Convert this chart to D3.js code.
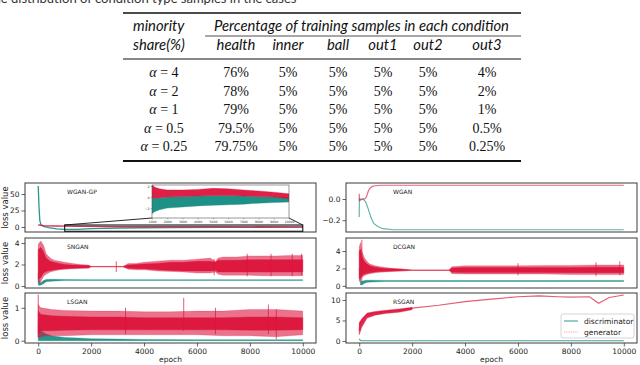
<!DOCTYPE html>
<html><head><meta charset="utf-8">
<script src="https://cdn.jsdelivr.net/npm/d3@7"></script>
<style>body{margin:0;background:#fff}svg{display:block}</style>
</head><body>
<svg id="c" width="640" height="365"></svg>
<script>
// ---------------- TABLE DATA ----------------
const captionText = "The distribution of condition type samples in the cases";
const conditionCols = ["health", "inner", "ball", "out1", "out2", "out3"];
const alphaValues = ["4", "2", "1", "0.5", "0.25"];
const healthPct = [76, 78, 79, 79.5, 79.75];
const innerPct = [5, 5, 5, 5, 5];
const ballPct = [5, 5, 5, 5, 5];
const out1Pct = [5, 5, 5, 5, 5];
const out2Pct = [5, 5, 5, 5, 5];
const out3Pct = [4, 2, 1, 0.5, 0.25];

// ---------------- CHART DATA ----------------
const epochTicks = [0, 2000, 4000, 6000, 8000, 10000];
const seriesNames = ["discriminator", "generator"];

// WGAN-GP (main)
const wgangpEpoch = [0, 30, 60, 100, 200, 400, 700, 1000, 1500, 2000, 3000, 5000, 7000, 10000];
const wgangpDisc = [62, 30, 10, 4, 1, -1, -3, -3.5, -3.5, -2.5, -1.5, -0.8, -0.5, -0.3];
const wgangpGen = [3, 3, 2.8, 2.5, 2, 1.8, 1.5, 1.2, 1, 0.8, 0.6, 0.5, 0.4, 0.2];
const wgangpTicks = [0, 25, 50];
const zoomEpochRange = [1000, 10000];
const zoomLossRange = [-6.5, 3];
// WGAN-GP inset (zoom on epochs 1000-10000)
const insetEpoch = [1000, 1200, 1500, 2000, 3000, 4000, 5000, 6000, 7000, 8000, 9000, 10000];
const insetGenLo = [-0.2, -0.2, -0.1, 0.0, 0.1, 0.2, 0.3, 0.3, 0.2, 0.1, 0.0, -0.3];
const insetGenHi = [2.2, 1.8, 1.5, 1.3, 1.3, 1.4, 1.6, 1.5, 1.3, 1.1, 0.9, 0.6];
const insetDiscLo = [-3.0, -2.6, -2.3, -2.0, -1.8, -1.6, -1.5, -1.4, -1.3, -1.1, -1.0, -0.9];
const insetDiscHi = [-0.2, -0.2, -0.1, 0.0, 0.1, 0.2, 0.3, 0.3, 0.2, 0.1, 0.0, 0.0];
const insetYTicks = [-2, 0, 2];
const insetXTicks = [1000, 2000, 3000, 4000, 5000, 6000, 7000, 8000, 9000, 10000];

// SNGAN
const snganGenEpoch = [0, 100, 200, 300, 450, 600, 800, 1000, 1300, 1600, 1900, 2000, 2500, 3200, 3400, 3700, 4000, 4500, 5000, 5500, 6000, 6500, 6700, 6800, 7000, 7500, 8000, 8500, 9000, 9500, 10000];
const snganGenLo = [0.3, 0.4, 0.9, 1.1, 1.3, 1.4, 1.5, 1.55, 1.6, 1.62, 1.65, 1.78, 1.78, 1.78, 1.55, 1.5, 1.5, 1.4, 1.35, 1.3, 1.2, 1.2, 1.3, 1.1, 1.0, 1.0, 1.0, 0.95, 0.95, 0.95, 0.95];
const snganGenHi = [3.9, 4.2, 3.8, 3.0, 2.6, 2.4, 2.3, 2.2, 2.1, 2.0, 1.95, 1.82, 1.82, 1.82, 2.1, 2.1, 2.2, 2.3, 2.4, 2.4, 2.5, 2.6, 2.3, 2.6, 2.7, 2.7, 2.8, 2.8, 2.8, 2.85, 2.85];
const snganGenCoreLo = [0.6, 0.8, 1.2, 1.35, 1.45, 1.5, 1.55, 1.6, 1.65, 1.68, 1.7, 1.78, 1.78, 1.78, 1.65, 1.6, 1.6, 1.5, 1.45, 1.4, 1.4, 1.4, 1.45, 1.3, 1.3, 1.3, 1.3, 1.3, 1.3, 1.3, 1.3];
const snganGenCoreHi = [3.4, 3.6, 3.2, 2.6, 2.3, 2.2, 2.1, 2.0, 1.95, 1.92, 1.9, 1.82, 1.82, 1.82, 1.95, 2.0, 2.05, 2.1, 2.2, 2.2, 2.3, 2.3, 2.2, 2.4, 2.4, 2.4, 2.45, 2.45, 2.45, 2.45, 2.45];
const snganSpikeEpoch = [2950, 6650, 7900, 8800, 9600, 9950];
const snganSpikeLo = [1.3, 1.0, 0.9, 0.9, 0.9, 1.0];
const snganSpikeHi = [2.3, 2.5, 3.0, 3.0, 3.0, 3.0];
const snganDiscEpoch = [0, 50, 100, 200, 300, 500, 1000, 2000, 4000, 6000, 8000, 10000];
const snganDiscLo = [0.1, 0.05, 0.1, 0.2, 0.4, 0.45, 0.5, 0.52, 0.52, 0.52, 0.52, 0.52];
const snganDiscHi = [1.2, 0.4, 0.3, 0.5, 0.6, 0.62, 0.6, 0.58, 0.58, 0.58, 0.58, 0.58];
const snganTicks = [0, 2, 4];

// LSGAN
const lsganGenEpoch = [0, 50, 100, 300, 500, 1000, 2000, 3000, 4000, 5000, 6000, 7000, 8000, 9000, 10000];
const lsganGenLo = [0.1, 0.1, 0.12, 0.15, 0.15, 0.15, 0.18, 0.18, 0.18, 0.18, 0.18, 0.15, 0.15, 0.12, 0.18];
const lsganGenHi = [1.1, 1.05, 1.0, 0.98, 0.95, 0.92, 0.9, 0.9, 0.88, 0.88, 0.9, 0.9, 0.95, 0.95, 0.9];
const lsganGenCoreLo = [0.2, 0.25, 0.3, 0.3, 0.3, 0.32, 0.33, 0.33, 0.33, 0.33, 0.33, 0.33, 0.32, 0.32, 0.33];
const lsganGenCoreHi = [0.9, 0.85, 0.8, 0.78, 0.76, 0.74, 0.72, 0.72, 0.7, 0.7, 0.7, 0.7, 0.72, 0.72, 0.7];
const lsganSpikeEpoch = [0, 3300, 5500, 6700, 8700, 9000];
const lsganSpikeLo = [0.1, 0.2, 0.3, 0.2, 0.2, 0.05];
const lsganSpikeHi = [1.4, 1.0, 1.3, 1.0, 1.1, 0.95];
const lsganDiscEpoch = [0, 100, 300, 500, 1000, 1500, 2000, 3000, 4000, 6000, 8000, 10000];
const lsganDiscLo = [0, 0, 0, 0, 0, 0, 0, 0, 0, 0, 0, 0];
const lsganDiscHi = [0.55, 0.3, 0.2, 0.15, 0.1, 0.08, 0.06, 0.05, 0.04, 0.03, 0.03, 0.03];
const lsganTicks = [0, 1];

// WGAN
const wganGenEpoch = [0, 10, 30, 60, 100, 200, 250, 300, 350, 400, 500, 600, 800, 1000, 2000, 10000];
const wganGen = [0.05, -0.02, 0.0, 0.0, 0.0, 0.0, 0.01, 0.04, 0.08, 0.10, 0.12, 0.125, 0.13, 0.13, 0.13, 0.13];
const wganDiscEpoch = [0, 5, 50, 150, 250, 350, 450, 550, 700, 900, 1300, 2000, 10000];
const wganDisc = [-0.17, 0.0, -0.01, 0.0, -0.03, -0.1, -0.18, -0.23, -0.26, -0.28, -0.29, -0.29, -0.29];
const wganTicks = [-0.2, 0.0];

// DCGAN
const dcganGenEpoch = [0, 50, 100, 200, 300, 400, 600, 800, 1000, 1300, 1600, 2000, 2100, 3000, 3400, 3500, 4000, 5000, 6000, 7000, 8000, 9000, 10000];
const dcganGenLo = [0.5, 0.6, 1.0, 1.2, 1.3, 1.4, 1.5, 1.55, 1.6, 1.65, 1.7, 1.78, 1.78, 1.78, 1.78, 1.4, 1.35, 1.35, 1.35, 1.35, 1.3, 1.3, 1.3];
const dcganGenHi = [4.5, 5.0, 4.0, 3.2, 2.8, 2.5, 2.3, 2.2, 2.1, 2.0, 1.95, 1.82, 1.82, 1.82, 1.82, 2.2, 2.3, 2.3, 2.3, 2.35, 2.35, 2.4, 2.4];
const dcganGenCoreLo = [0.8, 0.9, 1.2, 1.35, 1.45, 1.5, 1.6, 1.65, 1.68, 1.7, 1.72, 1.78, 1.78, 1.78, 1.78, 1.55, 1.52, 1.52, 1.52, 1.52, 1.5, 1.5, 1.5];
const dcganGenCoreHi = [4.0, 4.2, 3.4, 2.8, 2.5, 2.3, 2.15, 2.05, 2.0, 1.95, 1.9, 1.82, 1.82, 1.82, 1.82, 2.05, 2.1, 2.1, 2.1, 2.12, 2.12, 2.15, 2.15];
const dcganSpikeEpoch = [100, 6000, 8950, 9850];
const dcganSpikeLo = [0.4, 1.2, 1.1, 1.2];
const dcganSpikeHi = [5.3, 2.6, 2.7, 2.8];
const dcganDiscEpoch = [0, 50, 100, 200, 300, 500, 1000, 2000, 10000];
const dcganDiscLo = [1.5, 0.1, 0.1, 0.3, 0.4, 0.45, 0.5, 0.5, 0.5];
const dcganDiscHi = [2.0, 0.5, 0.5, 0.6, 0.65, 0.65, 0.62, 0.6, 0.6];
const dcganTicks = [0, 2, 4];

// RSGAN
const rsganGenEpoch = [0, 30, 60, 100, 150, 250, 400, 600, 900, 1300, 1700, 2000, 3000, 4000, 5000, 6000, 6800, 7500, 8000, 8700, 9050, 9450, 10000];
const rsganGen = [2.5, 4.2, 4.5, 5.0, 5.6, 6.2, 6.5, 6.8, 7.1, 7.3, 7.6, 8.0, 8.7, 9.6, 10.2, 10.8, 11.0, 10.8, 10.7, 10.8, 9.2, 10.6, 11.2];
const rsganBandEpoch = [0, 100, 300, 600, 1000, 1500, 2000];
const rsganBandLo = [1.5, 3.4, 5.6, 6.3, 6.7, 7.0, 7.6];
const rsganBandHi = [4.5, 5.4, 6.8, 7.2, 7.5, 7.8, 8.2];
const rsganDiscEpoch = [0, 50, 100, 10000];
const rsganDisc = [0.5, 0.1, 0.05, 0.05];
const rsganTicks = [0, 5, 10];

// ---------------- DRAWING ----------------
const svg = d3.select("#c");
const TEAL = "#128a80", RED = "#dc143c", FRAME = "#3a3a3a";

// caption (cut off at the top edge, as in the source page)
svg.append("text").attr("x", -14).attr("y", 3).attr("font-family", "Lato").attr("font-size", 13)
  .attr("fill", "#333").text(captionText);

// table
const T = svg.append("g");
const tl = 123, tr = 521;
const colX = [236, 288, 338, 383, 428, 487];
const rowY = [77, 95.5, 114, 132.5, 151];
T.append("line").attr("x1", tl).attr("x2", tr).attr("y1", 13).attr("y2", 13).attr("stroke", "#111").attr("stroke-width", 1.6);
T.append("line").attr("x1", 205).attr("x2", tr).attr("y1", 36).attr("y2", 36).attr("stroke", "#222").attr("stroke-width", 0.8);
T.append("line").attr("x1", tl).attr("x2", tr).attr("y1", 59).attr("y2", 59).attr("stroke", "#111").attr("stroke-width", 1);
T.append("line").attr("x1", tl).attr("x2", tr).attr("y1", 161).attr("y2", 161).attr("stroke", "#111").attr("stroke-width", 1.8);
const hdr = {"font-family": "Lato", "font-style": "italic", "font-size": 14.8, "fill": "#111"};
function styled(sel, st) { Object.entries(st).forEach(([k, v]) => sel.attr(k, v)); return sel; }
styled(T.append("text").attr("x", 133).attr("y", 31).text("minority"), hdr);
styled(T.append("text").attr("x", 133).attr("y", 50).text("share(%)"), hdr);
styled(T.append("text").attr("x", 214).attr("y", 31).text("Percentage of training samples in each condition"), hdr);
conditionCols.forEach((c, i) => styled(T.append("text").attr("x", colX[i]).attr("y", 50).attr("text-anchor", "middle").text(c), hdr));
const cols = [healthPct, innerPct, ballPct, out1Pct, out2Pct, out3Pct];
const cell = {"font-family": "Liberation Serif", "font-size": 14, "fill": "#111", "text-anchor": "middle"};
alphaValues.forEach((a, r) => {
  const t = styled(T.append("text").attr("x", 164).attr("y", rowY[r]), cell);
  t.append("tspan").attr("font-style", "italic").text("α");
  t.append("tspan").text(" = " + a);
  cols.forEach((col, ci) => styled(T.append("text").attr("x", colX[ci]).attr("y", rowY[r]).text(col[r] + "%"), cell));
});

// panels
const LEFT = [25, 316], RIGHT = [346, 637];
const ROWS = [[183, 232], [238, 288], [293, 343]];
const zip3 = (e, a, b) => e.map((v, i) => [v, a[i], b[i]]);
const zip2 = (e, a) => e.map((v, i) => [v, a[i]]);

const panels = [
  {name: "WGAN-GP", col: LEFT, row: ROWS[0], dom: [-7.6, 66.7], ticks: wgangpTicks, ylab: true, inset: true,
   series: [{kind: "line", c: TEAL, d: zip2(wgangpEpoch, wgangpDisc), w: 1.3, o: 0.9},
            {kind: "line", c: RED, d: zip2(wgangpEpoch, wgangpGen), w: 1.3, o: 0.9}]},
  {name: "SNGAN", col: LEFT, row: ROWS[1], dom: [-0.19, 4.47], ticks: snganTicks, ylab: true,
   series: [{kind: "band", c: TEAL, d: zip3(snganDiscEpoch, snganDiscLo, snganDiscHi), o: 0.9},
            {kind: "band", c: RED, d: zip3(snganGenEpoch, snganGenLo, snganGenHi), o: 0.6},
            {kind: "band", c: RED, d: zip3(snganGenEpoch, snganGenCoreLo, snganGenCoreHi), o: 0.95},
            {kind: "spike", c: RED, d: zip3(snganSpikeEpoch, snganSpikeLo, snganSpikeHi)}]},
  {name: "LSGAN", col: LEFT, row: ROWS[2], dom: [-0.07, 1.45], ticks: lsganTicks, ylab: true, xlab: true,
   series: [{kind: "band", c: TEAL, d: zip3(lsganDiscEpoch, lsganDiscLo, lsganDiscHi), o: 0.9},
            {kind: "band", c: RED, d: zip3(lsganGenEpoch, lsganGenLo, lsganGenHi), o: 0.6},
            {kind: "band", c: RED, d: zip3(lsganGenEpoch, lsganGenCoreLo, lsganGenCoreHi), o: 0.95},
            {kind: "spike", c: RED, d: zip3(lsganSpikeEpoch, lsganSpikeLo, lsganSpikeHi)}]},
  {name: "WGAN", col: RIGHT, row: ROWS[0], dom: [-0.311, 0.151], ticks: wganTicks, fmt: d3.format(".1f"),
   series: [{kind: "line", c: TEAL, d: zip2(wganDiscEpoch, wganDisc), w: 1.2, o: 0.65},
            {kind: "line", c: RED, d: zip2(wganGenEpoch, wganGen), w: 1.2, o: 0.65}]},
  {name: "DCGAN", col: RIGHT, row: ROWS[1], dom: [-0.25, 5.5], ticks: dcganTicks,
   series: [{kind: "band", c: TEAL, d: zip3(dcganDiscEpoch, dcganDiscLo, dcganDiscHi), o: 0.9},
            {kind: "band", c: RED, d: zip3(dcganGenEpoch, dcganGenLo, dcganGenHi), o: 0.6},
            {kind: "band", c: RED, d: zip3(dcganGenEpoch, dcganGenCoreLo, dcganGenCoreHi), o: 0.95},
            {kind: "spike", c: RED, d: zip3(dcganSpikeEpoch, dcganSpikeLo, dcganSpikeHi)}]},
  {name: "RSGAN", col: RIGHT, row: ROWS[2], dom: [-0.5, 11.7], ticks: rsganTicks, xlab: true, legend: true,
   series: [{kind: "line", c: TEAL, d: zip2(rsganDiscEpoch, rsganDisc), w: 1.2, o: 0.8},
            {kind: "band", c: RED, d: zip3(rsganBandEpoch, rsganBandLo, rsganBandHi), o: 0.9},
            {kind: "line", c: RED, d: zip2(rsganGenEpoch, rsganGen), w: 1.1, o: 0.7}]}
];

function drawSeries(g, s, x, y) {
  if (s.kind === "line") {
    g.append("path").attr("d", d3.line().x(d => x(d[0])).y(d => y(d[1]))(s.d))
      .attr("fill", "none").attr("stroke", s.c).attr("stroke-width", s.w).attr("stroke-opacity", s.o);
  } else if (s.kind === "band") {
    g.append("path").attr("d", d3.area().x(d => x(d[0])).y0(d => y(d[1])).y1(d => y(d[2]))(s.d))
      .attr("fill", s.c).attr("fill-opacity", s.o).attr("stroke", s.c).attr("stroke-width", 0.6).attr("stroke-opacity", s.o * 0.6);
  } else {
    g.selectAll(null).data(s.d).enter().append("line")
      .attr("x1", d => x(d[0])).attr("x2", d => x(d[0])).attr("y1", d => y(d[1])).attr("y2", d => y(d[2]))
      .attr("stroke", s.c).attr("stroke-width", 1).attr("stroke-opacity", 0.7);
  }
}

panels.forEach((p, i) => {
  const x = d3.scaleLinear().domain([-500, 10500]).range(p.col);
  const y = d3.scaleLinear().domain(p.dom).range([p.row[1], p.row[0]]);
  const g = svg.append("g");
  const cid = "clip" + i;
  svg.append("clipPath").attr("id", cid).append("rect")
    .attr("x", p.col[0]).attr("y", p.row[0]).attr("width", p.col[1] - p.col[0]).attr("height", p.row[1] - p.row[0]);
  const pg = g.append("g").attr("clip-path", `url(#${cid})`);
  p.series.forEach(s => drawSeries(pg, s, x, y));

  const ay = g.append("g").attr("transform", `translate(${p.col[0]},0)`)
    .call(d3.axisLeft(y).tickValues(p.ticks).tickSize(3.5).tickPadding(2).tickFormat(p.fmt || d3.format("d")));
  ay.select(".domain").remove();
  ay.selectAll("line").attr("stroke", FRAME).attr("stroke-width", 0.8);
  ay.selectAll("text").attr("font-family", "DejaVu Sans").attr("font-size", 7.5).attr("fill", "#222");
  if (p.xlab) {
    const ax = g.append("g").attr("transform", `translate(0,${p.row[1]})`)
      .call(d3.axisBottom(x).tickValues(epochTicks).tickSize(3.5).tickPadding(2).tickFormat(d3.format("d")));
    ax.select(".domain").remove();
    ax.selectAll("line").attr("stroke", FRAME).attr("stroke-width", 0.8);
    ax.selectAll("text").attr("font-family", "DejaVu Sans").attr("font-size", 7.5).attr("fill", "#222");
    g.append("text").attr("x", (x(0) + x(10000)) / 2).attr("y", 362).attr("text-anchor", "middle")
      .attr("font-family", "DejaVu Sans").attr("font-size", 7.5).attr("fill", "#222").text("epoch");
  }
  if (p.ylab) {
    const cy = (p.row[0] + p.row[1]) / 2;
    g.append("text").attr("transform", `translate(8,${cy}) rotate(-90)`).attr("text-anchor", "middle")
      .attr("font-family", "DejaVu Sans").attr("font-size", 8.5).attr("fill", "#222").text("loss value");
  }
  g.append("rect").attr("x", p.col[0]).attr("y", p.row[0]).attr("width", p.col[1] - p.col[0]).attr("height", p.row[1] - p.row[0])
    .attr("fill", "none").attr("stroke", FRAME).attr("stroke-width", 1);
  g.append("text").attr("x", p.col === LEFT ? 67 : 393).attr("y", p.row[0] + 11)
    .attr("font-family", "DejaVu Sans").attr("font-size", 6).attr("fill", "#222").text(p.name);

  if (p.inset) {
    const ix = d3.scaleLinear().domain(zoomEpochRange).range([152, 289]);
    const iy = d3.scaleLinear().domain([-3.8, 2.2]).range([218, 185]);
    const rx0 = x(zoomEpochRange[0]), rx1 = x(zoomEpochRange[1]);
    const ry0 = y(zoomLossRange[1]), ry1 = y(zoomLossRange[0]);
    g.append("rect").attr("x", rx0).attr("y", ry0).attr("width", rx1 - rx0).attr("height", ry1 - ry0)
      .attr("fill", "none").attr("stroke", "#111").attr("stroke-width", 1.1);
    g.append("line").attr("x1", 152).attr("y1", 218).attr("x2", rx0).attr("y2", ry0).attr("stroke", "#111").attr("stroke-width", 0.9);
    g.append("line").attr("x1", 289).attr("y1", 218).attr("x2", rx1).attr("y2", ry0).attr("stroke", "#111").attr("stroke-width", 0.9);
    g.append("rect").attr("x", 152).attr("y", 185).attr("width", 137).attr("height", 33).attr("fill", "#fff");
    svg.append("clipPath").attr("id", "clipInset").append("rect").attr("x", 152).attr("y", 185).attr("width", 137).attr("height", 33);
    const ig = g.append("g").attr("clip-path", "url(#clipInset)");
    drawSeries(ig, {kind: "band", c: TEAL, d: zip3(insetEpoch, insetDiscLo, insetDiscHi), o: 0.95}, ix, iy);
    drawSeries(ig, {kind: "band", c: RED, d: zip3(insetEpoch, insetGenLo, insetGenHi), o: 0.95}, ix, iy);
    g.append("rect").attr("x", 152).attr("y", 185).attr("width", 137).attr("height", 33)
      .attr("fill", "none").attr("stroke", "#555").attr("stroke-width", 0.6);
    const iay = g.append("g").attr("transform", "translate(152,0)")
      .call(d3.axisLeft(iy).tickValues(insetYTicks).tickSize(1.5).tickPadding(1).tickFormat(d3.format("d")));
    iay.select(".domain").remove();
    iay.selectAll("text").attr("font-family", "DejaVu Sans").attr("font-size", 3.2).attr("fill", "#333");
    iay.selectAll("line").attr("stroke", "#555").attr("stroke-width", 0.4);
    const iax = g.append("g").attr("transform", "translate(0,218)")
      .call(d3.axisBottom(ix).tickValues(insetXTicks).tickSize(1.5).tickPadding(1).tickFormat(d3.format("d")));
    iax.select(".domain").remove();
    iax.selectAll("text").attr("font-family", "DejaVu Sans").attr("font-size", 3.2).attr("fill", "#333");
    iax.selectAll("line").attr("stroke", "#555").attr("stroke-width", 0.4);
  }

  if (p.legend) {
    const lg = g.append("g");
    lg.append("rect").attr("x", 561).attr("y", 314).attr("width", 73).attr("height", 24).attr("rx", 2)
      .attr("fill", "#fff").attr("fill-opacity", 0.85).attr("stroke", "#ccc").attr("stroke-width", 0.8);
    const legendColors = [TEAL, RED];
    seriesNames.forEach((n, k) => {
      const ly = 321 + k * 11;
      lg.append("line").attr("x1", 564).attr("x2", 578).attr("y1", ly).attr("y2", ly)
        .attr("stroke", legendColors[k]).attr("stroke-width", k ? 1.2 : 1.1)
        .attr("stroke-opacity", k ? 0.4 : 0.8).attr("stroke-dasharray", k ? "1,0.8" : null);
      lg.append("text").attr("x", 584).attr("y", ly + 2.7).attr("font-family", "DejaVu Sans").attr("font-size", 7.5)
        .attr("fill", "#222").text(n);
    });
  }
});
</script>
</body></html>
